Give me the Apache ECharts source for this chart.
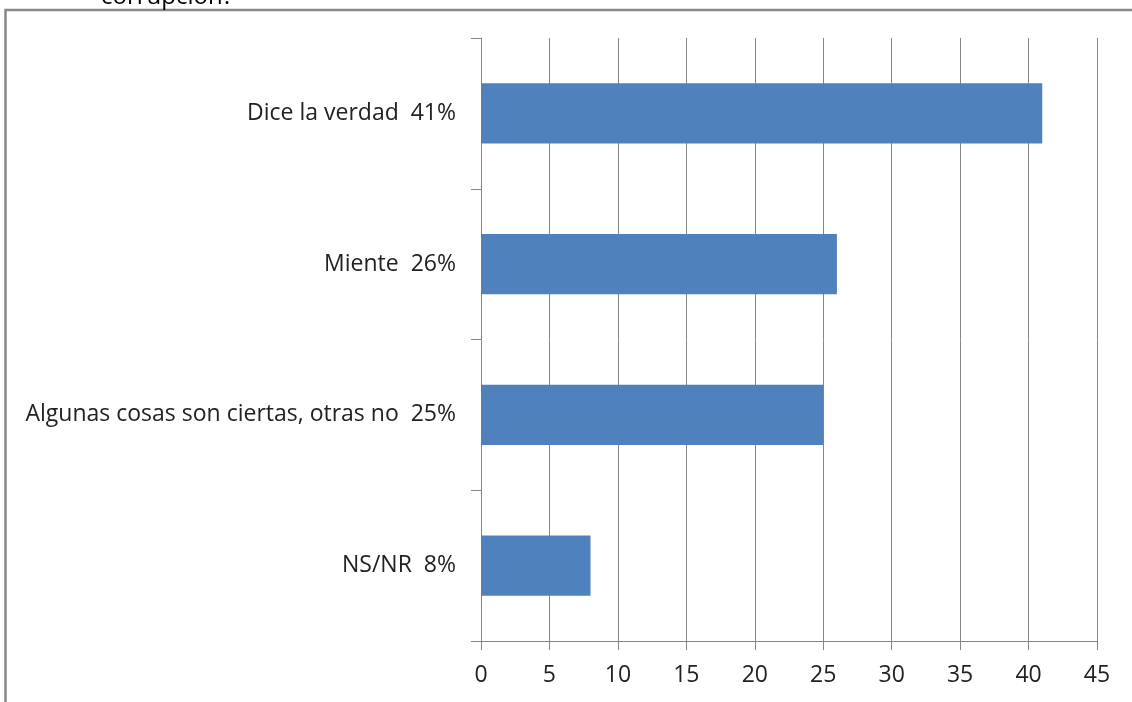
<!DOCTYPE html>
<html>
<head>
<meta charset="utf-8">
<script src="https://cdn.jsdelivr.net/npm/echarts@6/dist/echarts.min.js"></script>
<style>
html,body{margin:0;padding:0;background:#fff;}
#chart{width:1132px;height:702px;}
</style>
</head>
<body>
<div id="chart"></div>
<script>
var categories = ["NS/NR  8%", "Algunas cosas son ciertas, otras no  25%", "Miente  26%", "Dice la verdad  41%"];
var values = [8, 25, 26, 41];
var xTicks = {min: 0, max: 45, interval: 5};
var titleText = "corrupción?";

var FONT = "Open Sans";
var chart = echarts.init(document.getElementById('chart'), null, {renderer: 'canvas'});
chart.setOption({
  animation: false,
  backgroundColor: '#ffffff',
  graphic: [
    {type: 'rect', shape: {x: 5.5, y: 10, width: 1300, height: 900},
     style: {fill: 'none', stroke: '#888888', lineWidth: 2.5}, z: 0},
    {type: 'text', x: 101, y: -3,
     style: {text: titleText, fill: '#000', font: '24px "Open Sans"', verticalAlign: 'middle', align: 'left'}}
  ],
  grid: {left: 481, right: 35, top: 38, bottom: 61, containLabel: false},
  xAxis: {
    type: 'value', min: xTicks.min, max: xTicks.max, interval: xTicks.interval,
    axisLine: {show: true, lineStyle: {color: '#868686', width: 1}},
    axisTick: {show: true, length: 9, lineStyle: {color: '#868686'}},
    splitLine: {show: true, lineStyle: {color: '#868686', width: 1}},
    axisLabel: {color: '#222', fontFamily: FONT, fontSize: 23, margin: 23}
  },
  yAxis: {
    type: 'category', data: categories,
    axisLine: {show: true, lineStyle: {color: '#868686', width: 1}},
    axisTick: {show: true, length: 10, lineStyle: {color: '#868686'}},
    axisLabel: {color: '#222', fontFamily: FONT, fontSize: 23, margin: 25}
  },
  series: [{
    type: 'bar', data: values, barCategoryGap: '60%',
    itemStyle: {color: '#4F81BD'}
  }]
});
</script>
</body>
</html>
